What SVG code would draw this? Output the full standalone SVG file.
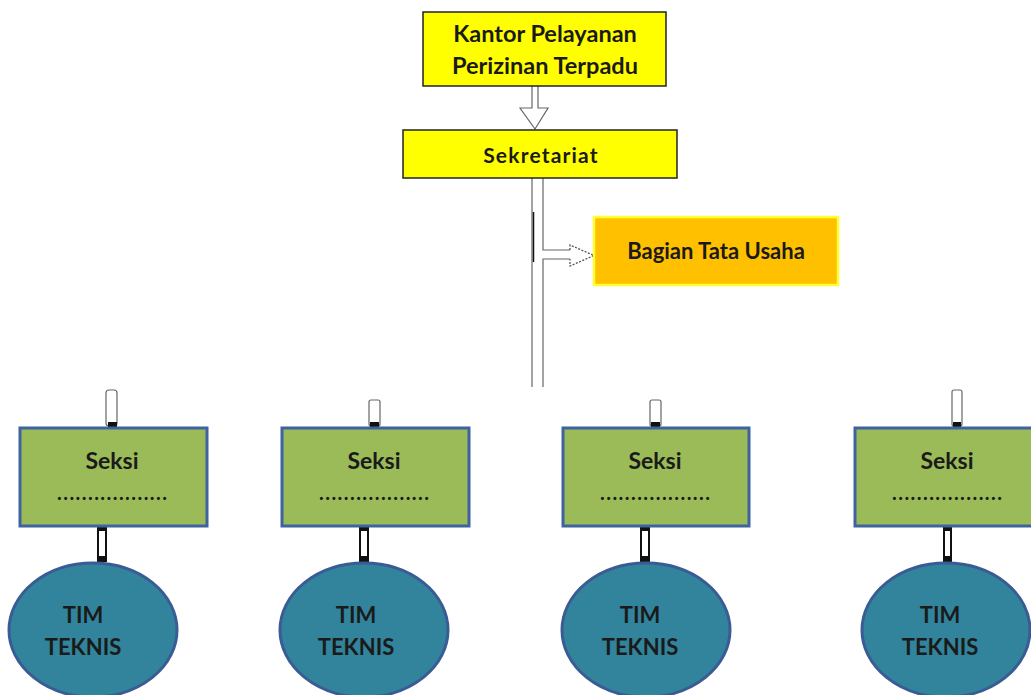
<svg xmlns="http://www.w3.org/2000/svg" width="1031" height="695" viewBox="0 0 1031 695">
<style>
.t{font-family:Lato,"Liberation Sans",sans-serif;font-weight:bold;fill:#1a1a1a;text-anchor:middle}
.k{font-size:23.5px}
.s{font-size:23px}
.d{font-size:20px}
.m{font-size:22px}
.yel{fill:#FFFF00;stroke:#222;stroke-width:1.5}
.sek{fill:#9BBB59;stroke:#3F63A0;stroke-width:3}
.tim{fill:#31849B;stroke:#3A5C94;stroke-width:3}
.pipe{fill:#fff;stroke:#666;stroke-width:1.2}
.blk{fill:#111}
</style>
<rect width="1031" height="695" fill="#fff"/>
<g id="connectors">
  <path d="M532,86 V108 H520 L535,129 L548,108 H538 V86" fill="#fff" stroke="#666" stroke-width="1.2"/>
  <path d="M532,178 V387 M543,178 V250 H570 M543,387 V259 H570" fill="none" stroke="#666" stroke-width="1.2"/>
  <line x1="533.5" y1="212" x2="533.5" y2="262" stroke="#111" stroke-width="1.5"/>
  <path d="M570,250 V245 L594,255.5 L570,266 V259" fill="#fff" stroke="#555" stroke-width="1.3" stroke-dasharray="2,1.5"/>
  <rect class="pipe" x="106" y="390" width="11" height="36" rx="3"/>
  <rect class="blk" x="108" y="422" width="9" height="5"/>
  <rect class="pipe" x="369" y="400" width="11" height="26" rx="2"/>
  <rect class="blk" x="370" y="422" width="9" height="5"/>
  <rect class="pipe" x="650" y="400" width="11" height="26" rx="2"/>
  <rect class="blk" x="651" y="422" width="9" height="5"/>
  <rect class="pipe" x="952" y="390" width="10" height="36" rx="2"/>
  <rect class="blk" x="953" y="422" width="8" height="5"/>
  <rect x="98" y="528" width="8" height="33" fill="#fff" stroke="#111" stroke-width="2"/>
  <rect class="blk" x="97" y="526" width="10" height="5"/>
  <rect class="blk" x="97" y="556" width="10" height="6"/>
  <rect x="360" y="528" width="8" height="33" fill="#fff" stroke="#111" stroke-width="2"/>
  <rect class="blk" x="359" y="526" width="10" height="5"/>
  <rect class="blk" x="359" y="556" width="10" height="6"/>
  <rect x="641" y="528" width="8" height="33" fill="#fff" stroke="#111" stroke-width="2"/>
  <rect class="blk" x="640" y="526" width="10" height="5"/>
  <rect class="blk" x="640" y="556" width="10" height="6"/>
  <rect x="944" y="528" width="7" height="33" fill="#fff" stroke="#111" stroke-width="2"/>
  <rect class="blk" x="943" y="526" width="9" height="5"/>
  <rect class="blk" x="943" y="556" width="9" height="6"/>
</g>
<g id="kantor">
  <rect class="yel" x="423" y="12" width="243" height="74"/>
  <text class="t k" x="545" y="42">Kantor Pelayanan</text>
  <text class="t k" x="545" y="74">Perizinan Terpadu</text>
</g>
<g id="sekretariat">
  <rect class="yel" x="403" y="130" width="274" height="48"/>
  <text class="t" x="541" y="163" font-size="21" letter-spacing="1.2">Sekretariat</text>
</g>
<g id="bagian">
  <rect x="594" y="217" width="244" height="68" fill="#FFC000" stroke="#FFFF33" stroke-width="2.5"/>
  <text class="t" x="716" y="259" font-size="22">Bagian Tata Usaha</text>
</g>
<g id="seksi1">
  <rect class="sek" x="20" y="428" width="187" height="98"/>
  <text class="t s" x="112" y="469">Seksi</text>
  <text class="t d" x="112" y="500" textLength="110" lengthAdjust="spacing">..................</text>
</g>
<g id="seksi2">
  <rect class="sek" x="282" y="428" width="187" height="98"/>
  <text class="t s" x="374" y="469">Seksi</text>
  <text class="t d" x="374" y="500" textLength="110" lengthAdjust="spacing">..................</text>
</g>
<g id="seksi3">
  <rect class="sek" x="563" y="428" width="186" height="98"/>
  <text class="t s" x="655" y="469">Seksi</text>
  <text class="t d" x="655" y="500" textLength="110" lengthAdjust="spacing">..................</text>
</g>
<g id="seksi4">
  <rect class="sek" x="855" y="428" width="190" height="98"/>
  <text class="t s" x="947" y="469">Seksi</text>
  <text class="t d" x="947" y="500" textLength="110" lengthAdjust="spacing">..................</text>
</g>
<g id="tim1">
  <ellipse class="tim" cx="93" cy="630" rx="84" ry="67"/>
  <text class="t m" x="83" y="623">TIM</text>
  <text class="t m" x="83" y="655">TEKNIS</text>
</g>
<g id="tim2">
  <ellipse class="tim" cx="364" cy="630" rx="84" ry="67"/>
  <text class="t m" x="356" y="623">TIM</text>
  <text class="t m" x="356" y="655">TEKNIS</text>
</g>
<g id="tim3">
  <ellipse class="tim" cx="646" cy="630" rx="84" ry="67"/>
  <text class="t m" x="640" y="623">TIM</text>
  <text class="t m" x="640" y="655">TEKNIS</text>
</g>
<g id="tim4">
  <ellipse class="tim" cx="946" cy="630" rx="84" ry="67"/>
  <text class="t m" x="940" y="623">TIM</text>
  <text class="t m" x="940" y="655">TEKNIS</text>
</g>
</svg>
